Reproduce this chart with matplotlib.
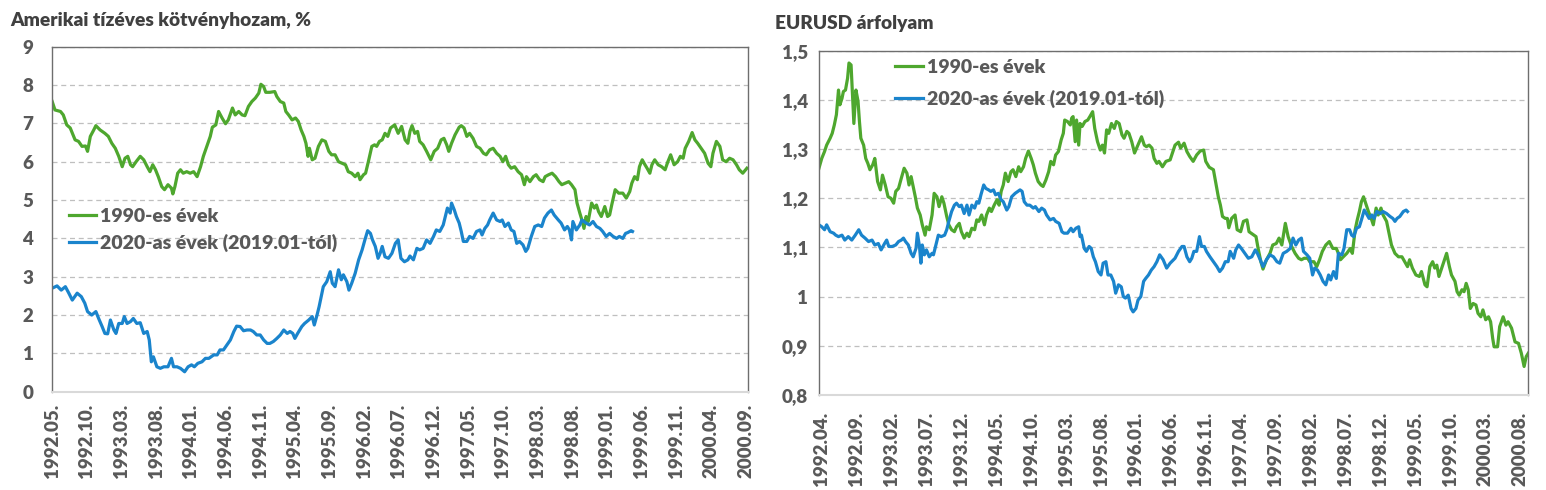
import matplotlib
matplotlib.use("Agg")
import matplotlib.pyplot as plt

plt.rcParams['font.family'] = ['Lato', 'DejaVu Sans']
W = 800  # Lato Heavy, closer to the heavy Calibri bold of the original

GREEN = '#4ea72e'
BLUE = '#1a84cc'
TXT = '#595959'

# ---- US 10y yield, months from start (1992.05 / 2019.01) ----
y90_m = [0.0, 0.4, 1.2, 1.6, 2.1, 2.6, 3.3, 3.8, 4.3, 4.8, 5.1, 5.5, 6.0, 6.3, 6.9, 7.6, 8.1, 8.6,
         9.1, 9.6, 10.1, 10.5, 10.9, 11.3, 11.6, 12.1, 12.7, 13.2, 13.7, 14.1, 14.5, 14.9, 15.3,
         15.8, 16.2, 16.7, 17.2, 17.4, 17.7, 18.1, 18.5, 18.9, 19.4, 19.9, 20.4, 20.9, 21.4, 21.8,
         22.3, 22.8, 23.1, 23.6, 24.0, 24.5, 25.0, 25.4, 26.0, 26.4, 26.9, 27.4, 27.8, 28.3, 28.8,
         29.3, 29.8, 30.1, 30.5, 30.8, 31.4, 32.1, 32.4, 32.9, 33.4, 33.7, 34.1, 34.6, 35.1, 35.5,
         35.9, 36.3, 36.6, 36.9, 37.1, 37.5, 37.9, 38.4, 38.9, 39.4, 39.9, 40.3, 40.8, 41.3, 41.8,
         42.3, 42.7, 43.2, 43.7, 44.1, 44.4, 44.9, 45.2, 45.6, 46.1, 46.5, 46.8, 47.2, 47.6, 48.0,
         48.4, 48.8, 49.4, 49.9, 50.4, 50.9, 51.3, 51.6, 51.9, 52.3, 52.7, 53.0, 53.5, 54.0, 54.6,
         55.1, 55.6, 56.1, 56.5, 56.9, 57.2, 57.6, 58.1, 58.7, 59.0, 59.4, 59.8, 60.2, 60.7, 61.2,
         61.7, 62.2, 62.6, 63.1, 63.6, 64.1, 64.6, 65.0, 65.4, 65.8, 66.2, 66.7, 67.2, 67.7, 68.1,
         68.4, 68.9, 69.4, 69.8, 70.3, 70.8, 71.1, 71.6, 72.1, 72.6, 73.1, 73.5, 74.0, 74.5, 74.9,
         75.4, 75.7, 76.1, 76.4, 76.7, 77.0, 77.3, 77.8, 78.2, 78.5, 78.8, 79.2, 79.7, 80.1, 80.4,
         80.7, 81.2, 81.7, 82.3, 82.8, 83.3, 83.6, 84.0, 84.4, 84.7, 85.1, 85.5, 85.8, 86.2, 86.5,
         86.9, 87.4, 87.9, 88.4, 88.8, 89.2, 89.7, 90.2, 90.6, 91.0, 91.3, 91.8, 92.3, 92.7, 93.1,
         93.6, 94.1, 94.6, 95.0, 95.3, 95.8, 96.3, 96.7, 97.2, 97.7, 98.2, 98.7, 99.1, 99.6, 100.2]
y90_v = [7.57, 7.35, 7.31, 7.22, 6.96, 6.88, 6.57, 6.53, 6.40, 6.41, 6.27, 6.66, 6.83, 6.94, 6.83,
         6.74, 6.66, 6.48, 6.35, 6.14, 5.87, 6.09, 6.14, 5.92, 5.87, 6.00, 6.14, 6.05, 5.87, 5.74,
         5.92, 5.79, 5.61, 5.35, 5.27, 5.40, 5.31, 5.16, 5.35, 5.70, 5.79, 5.70, 5.74, 5.70, 5.74,
         5.61, 5.87, 6.14, 6.40, 6.66, 6.90, 6.96, 7.31, 7.14, 6.99, 7.09, 7.40, 7.22, 7.31, 7.22,
         7.20, 7.44, 7.57, 7.66, 7.79, 8.02, 7.96, 7.81, 7.81, 7.83, 7.70, 7.57, 7.53, 7.31, 7.22,
         7.09, 7.14, 7.05, 6.83, 6.66, 6.48, 6.14, 6.35, 6.05, 6.09, 6.40, 6.57, 6.53, 6.27, 6.18,
         6.18, 6.00, 5.96, 5.92, 5.74, 5.70, 5.61, 5.70, 5.53, 5.66, 5.70, 6.00, 6.40, 6.44, 6.40,
         6.53, 6.57, 6.74, 6.66, 6.88, 6.96, 6.74, 6.92, 6.57, 6.48, 6.79, 6.94, 6.74, 6.79, 6.53,
         6.44, 6.27, 6.05, 6.27, 6.35, 6.57, 6.61, 6.44, 6.27, 6.48, 6.70, 6.90, 6.94, 6.88, 6.66,
         6.74, 6.61, 6.40, 6.35, 6.22, 6.18, 6.31, 6.35, 6.22, 6.14, 6.00, 6.14, 5.92, 5.83, 5.87,
         5.74, 5.66, 5.40, 5.61, 5.48, 5.61, 5.66, 5.53, 5.48, 5.61, 5.66, 5.70, 5.61, 5.48, 5.40,
         5.44, 5.48, 5.40, 5.27, 4.92, 4.66, 4.48, 4.26, 4.57, 4.44, 4.92, 4.79, 4.87, 4.70, 4.57,
         4.83, 4.57, 4.61, 4.87, 5.27, 5.18, 5.18, 5.05, 5.22, 5.44, 5.61, 5.53, 5.87, 6.05, 5.92,
         5.83, 5.70, 5.92, 6.05, 5.92, 5.87, 5.79, 6.00, 6.18, 5.92, 6.00, 6.14, 6.09, 6.35, 6.53,
         6.76, 6.57, 6.48, 6.35, 6.22, 5.96, 5.87, 6.22, 6.53, 6.40, 6.05, 6.00, 6.09, 6.05, 5.92,
         5.79, 5.70, 5.83]

y20_m = [0.0, 0.7, 1.3, 1.9, 2.4, 2.9, 3.6, 4.2, 4.7, 5.1, 5.7, 6.3, 6.7, 7.2, 7.6, 8.0, 8.4, 8.9,
         9.2, 9.6, 10.1, 10.4, 10.8, 11.3, 11.7, 12.2, 12.7, 13.2, 13.7, 14.0, 14.3, 14.6, 15.1,
         15.6, 16.1, 16.7, 17.2, 17.5, 18.0, 18.5, 19.1, 19.6, 20.1, 20.5, 21.0, 21.6, 22.1, 22.6,
         23.3, 23.8, 24.2, 24.7, 25.2, 25.7, 26.2, 26.6, 27.1, 27.6, 28.1, 28.6, 29.0, 29.5, 30.0,
         30.5, 31.0, 31.4, 31.9, 32.4, 32.9, 33.4, 33.9, 34.3, 34.7, 35.0, 35.4, 36.0, 36.4, 37.0,
         37.5, 37.8, 38.2, 38.5, 38.8, 39.1, 39.6, 40.1, 40.4, 40.8, 41.3, 41.7, 42.0, 42.5, 42.8,
         43.2, 43.7, 44.2, 44.7, 45.1, 45.5, 45.9, 46.2, 46.6, 47.0, 47.3, 47.6, 48.0, 48.5, 49.0,
         49.5, 49.9, 50.3, 50.8, 51.3, 51.6, 52.1, 52.6, 53.0, 53.5, 54.0, 54.5, 55.0, 55.4, 55.9,
         56.4, 56.7, 57.0, 57.4, 57.6, 58.0, 58.3, 58.7, 59.0, 59.3, 59.8, 60.2, 60.7, 61.2, 61.7,
         62.0, 62.4, 62.8, 63.1, 63.6, 64.1, 64.6, 64.9, 65.3, 65.8, 66.2, 66.6, 67.0, 67.4, 67.9,
         68.3, 68.6, 69.1, 69.6, 70.1, 70.6, 71.0, 71.5, 72.0, 72.4, 73.0, 73.4, 73.9, 74.3, 74.6,
         74.9, 75.1, 75.6, 76.1, 76.4, 77.0, 77.5, 78.0, 78.5, 79.0, 79.4, 79.9, 80.4, 80.9, 81.4,
         81.8, 82.3, 82.7, 83.0, 83.5, 83.7]
y20_v = [2.70, 2.76, 2.65, 2.74, 2.57, 2.39, 2.57, 2.48, 2.31, 2.09, 2.00, 2.09, 1.91, 1.70, 1.52,
         1.51, 1.87, 1.61, 1.52, 1.78, 1.78, 1.96, 1.78, 1.83, 1.91, 1.78, 1.80, 1.52, 1.57, 1.35,
         0.78, 0.91, 0.65, 0.61, 0.65, 0.65, 0.87, 0.65, 0.65, 0.61, 0.52, 0.65, 0.70, 0.65, 0.74,
         0.78, 0.87, 0.87, 0.96, 0.96, 1.09, 1.09, 1.22, 1.35, 1.57, 1.71, 1.70, 1.59, 1.61, 1.61,
         1.57, 1.48, 1.48, 1.35, 1.26, 1.26, 1.31, 1.39, 1.48, 1.61, 1.52, 1.57, 1.52, 1.39, 1.52,
         1.70, 1.78, 1.87, 1.96, 1.74, 2.00, 2.22, 2.48, 2.74, 2.87, 3.13, 2.83, 2.74, 3.18, 2.92,
         3.05, 2.87, 2.65, 2.83, 3.09, 3.44, 3.70, 3.96, 4.20, 4.13, 3.96, 3.79, 3.48, 3.61, 3.79,
         3.52, 3.48, 3.61, 3.87, 3.96, 3.48, 3.39, 3.44, 3.54, 3.44, 3.74, 3.70, 3.74, 3.96, 3.87,
         4.05, 4.22, 4.18, 4.35, 4.57, 4.79, 4.66, 4.92, 4.74, 4.57, 4.40, 4.18, 3.92, 3.92, 4.05,
         4.00, 4.18, 4.22, 4.09, 4.26, 4.35, 4.48, 4.66, 4.48, 4.44, 4.48, 4.31, 4.40, 4.22, 4.18,
         3.87, 3.92, 3.83, 3.66, 3.74, 4.05, 4.31, 4.35, 4.31, 4.53, 4.66, 4.74, 4.61, 4.48, 4.40,
         4.22, 4.31, 4.22, 3.96, 4.44, 4.22, 4.35, 4.48, 4.40, 4.35, 4.44, 4.31, 4.26, 4.18, 4.05,
         4.13, 4.05, 4.00, 4.05, 4.00, 4.13, 4.15, 4.20, 4.18]

yield_labels = ['1992.05.', '1992.10.', '1993.03.', '1993.08.', '1994.01.', '1994.06.', '1994.11.',
                '1995.04.', '1995.09.', '1996.02.', '1996.07.', '1996.12.', '1997.05.', '1997.10.',
                '1998.03.', '1998.08.', '1999.01.', '1999.06.', '1999.11.', '2000.04.', '2000.09.']

# ---- EURUSD, months from start (1992.04 / 2019.01) ----
e90_m = [-0.4, 0.0, 0.4, 0.7, 1.2, 1.5, 1.8, 2.1, 2.4, 2.6, 2.9, 3.1, 3.4, 3.7, 3.9, 4.2, 4.4, 4.6,
         4.9, 5.2, 5.4, 5.6, 6.0, 6.3, 6.6, 6.9, 7.3, 7.6, 8.0, 8.4, 8.7, 9.1, 9.5, 9.9, 10.3, 10.6,
         11.0, 11.4, 11.8, 12.2, 12.5, 12.8, 13.1, 13.4, 13.7, 14.1, 14.4, 14.8, 15.0, 15.4, 15.8,
         16.1, 16.5, 16.8, 17.2, 17.5, 17.9, 18.2, 18.6, 19.0, 19.3, 19.7, 20.0, 20.4, 20.8, 21.1,
         21.5, 21.9, 22.2, 22.5, 22.9, 23.3, 23.6, 24.0, 24.3, 24.7, 25.1, 25.4, 25.7, 26.0, 26.3,
         26.7, 27.1, 27.4, 27.8, 28.2, 28.5, 28.9, 29.2, 29.6, 30.0, 30.3, 30.6, 31.0, 31.4, 31.7,
         32.1, 32.5, 32.8, 33.2, 33.5, 33.9, 34.3, 34.6, 34.8, 35.2, 35.6, 35.8, 36.0, 36.3, 36.5,
         36.8, 37.0, 37.3, 37.7, 38.1, 38.4, 38.8, 39.1, 39.5, 39.9, 40.2, 40.5, 40.8, 41.1, 41.5,
         41.9, 42.2, 42.6, 43.0, 43.3, 43.7, 44.0, 44.4, 44.8, 45.1, 45.4, 45.8, 46.2, 46.5, 46.9,
         47.3, 47.6, 48.0, 48.3, 48.8, 49.3, 49.9, 50.6, 51.1, 51.4, 51.9, 52.3, 52.7, 53.2, 53.7,
         54.2, 54.7, 55.0, 55.5, 56.1, 56.5, 56.8, 57.1, 57.4, 57.8, 58.1, 58.3, 58.7, 59.2, 59.5,
         60.0, 60.4, 60.9, 61.2, 61.7, 62.2, 62.5, 62.9, 63.2, 63.7, 64.2, 64.6, 65.1, 65.5, 65.9,
         66.4, 66.8, 67.3, 67.8, 68.3, 68.7, 69.1, 69.6, 69.9, 70.5, 70.9, 71.3, 71.7, 72.2, 72.7,
         73.2, 73.7, 74.0, 74.3, 74.7, 75.2, 75.7, 76.0, 76.4, 76.7, 77.0, 77.3, 77.6, 77.9, 78.3,
         78.7, 79.0, 79.4, 79.7, 80.1, 80.4, 80.9, 81.3, 81.6, 82.1, 82.6, 83.1, 83.5, 83.9, 84.2,
         84.6, 85.1, 85.6, 85.9, 86.4, 86.7, 87.1, 87.5, 87.8, 88.1, 88.4, 88.8, 89.1, 89.5, 89.9,
         90.2, 90.7, 91.0, 91.3, 91.7, 92.0, 92.3, 92.6, 92.9, 93.3, 93.7, 94.0, 94.4, 94.7, 95.1,
         95.5, 95.8, 96.1, 96.3, 96.8, 97.1, 97.6, 98.0, 98.3, 98.8, 99.3, 99.8, 100.2, 100.6,
         100.9, 101.2]
e90_v = [1.261, 1.281, 1.295, 1.308, 1.322, 1.332, 1.349, 1.370, 1.420, 1.390, 1.403, 1.417, 1.420,
         1.444, 1.475, 1.471, 1.410, 1.352, 1.420, 1.397, 1.356, 1.322, 1.308, 1.281, 1.271, 1.258,
         1.268, 1.281, 1.234, 1.217, 1.247, 1.227, 1.203, 1.200, 1.190, 1.214, 1.220, 1.241, 1.261,
         1.251, 1.227, 1.244, 1.224, 1.203, 1.180, 1.166, 1.146, 1.125, 1.142, 1.136, 1.166, 1.210,
         1.203, 1.183, 1.203, 1.190, 1.163, 1.146, 1.136, 1.132, 1.142, 1.149, 1.132, 1.119, 1.129,
         1.122, 1.139, 1.136, 1.156, 1.153, 1.166, 1.146, 1.166, 1.180, 1.173, 1.186, 1.197, 1.186,
         1.214, 1.227, 1.251, 1.234, 1.254, 1.258, 1.244, 1.264, 1.254, 1.264, 1.281, 1.296, 1.281,
         1.268, 1.251, 1.234, 1.227, 1.224, 1.237, 1.254, 1.275, 1.268, 1.288, 1.295, 1.319, 1.332,
         1.359, 1.356, 1.349, 1.363, 1.366, 1.315, 1.359, 1.308, 1.352, 1.346, 1.356, 1.359, 1.366,
         1.376, 1.342, 1.315, 1.298, 1.308, 1.292, 1.339, 1.332, 1.352, 1.342, 1.356, 1.352, 1.329,
         1.322, 1.336, 1.332, 1.315, 1.292, 1.302, 1.312, 1.325, 1.308, 1.305, 1.308, 1.302, 1.281,
         1.271, 1.275, 1.264, 1.275, 1.278, 1.308, 1.314, 1.302, 1.312, 1.295, 1.285, 1.275, 1.288,
         1.296, 1.298, 1.275, 1.263, 1.258, 1.227, 1.203, 1.186, 1.163, 1.159, 1.159, 1.140, 1.159,
         1.166, 1.136, 1.132, 1.153, 1.156, 1.132, 1.127, 1.122, 1.098, 1.071, 1.056, 1.075, 1.088,
         1.105, 1.108, 1.119, 1.105, 1.149, 1.122, 1.102, 1.088, 1.078, 1.075, 1.078, 1.078, 1.071,
         1.071, 1.061, 1.075, 1.092, 1.105, 1.112, 1.098, 1.098, 1.088, 1.075, 1.081, 1.088, 1.098,
         1.088, 1.136, 1.156, 1.173, 1.193, 1.203, 1.190, 1.173, 1.159, 1.146, 1.180, 1.166, 1.180,
         1.166, 1.153, 1.125, 1.105, 1.088, 1.081, 1.081, 1.071, 1.061, 1.075, 1.058, 1.044, 1.041,
         1.051, 1.024, 1.020, 1.061, 1.071, 1.058, 1.064, 1.041, 1.058, 1.071, 1.088, 1.061, 1.044,
         1.031, 1.010, 1.003, 1.014, 1.010, 1.027, 1.014, 0.976, 0.986, 0.983, 0.966, 0.959, 0.973,
         0.953, 0.959, 0.949, 0.915, 0.898, 0.898, 0.939, 0.959, 0.942, 0.949, 0.936, 0.908, 0.905,
         0.885, 0.858, 0.878, 0.885]

e20_m = [-0.4, 0.0, 0.4, 0.7, 1.2, 1.7, 2.0, 2.4, 2.9, 3.3, 3.8, 4.3, 4.8, 5.3, 5.7, 6.2, 6.7, 7.2,
         7.6, 8.1, 8.5, 9.0, 9.3, 9.6, 10.1, 10.6, 11.0, 11.4, 11.7, 12.0, 12.4, 12.8, 13.1, 13.5,
         13.7, 14.0, 14.2, 14.4, 14.7, 15.0, 15.4, 15.8, 16.0, 16.3, 16.7, 17.1, 17.6, 17.9, 18.2,
         18.6, 19.0, 19.3, 19.7, 20.0, 20.4, 20.8, 21.1, 21.5, 21.9, 22.2, 22.5, 22.8, 23.2, 23.5,
         23.9, 24.2, 24.6, 24.9, 25.3, 25.7, 26.0, 26.5, 26.8, 27.2, 27.7, 28.1, 28.4, 28.7, 29.0,
         29.4, 29.8, 30.3, 30.6, 31.1, 31.5, 31.9, 32.2, 32.7, 33.2, 33.5, 34.0, 34.4, 34.7, 35.2,
         35.7, 36.0, 36.4, 36.8, 37.0, 37.2, 37.6, 37.9, 38.3, 38.6, 38.9, 39.2, 39.6, 40.0, 40.3,
         40.7, 41.0, 41.4, 41.8, 42.1, 42.5, 42.9, 43.2, 43.5, 43.9, 44.3, 44.6, 45.0, 45.3, 45.7,
         46.1, 46.4, 46.8, 47.2, 47.6, 48.0, 48.4, 48.9, 49.4, 49.9, 50.6, 51.1, 51.6, 51.9, 52.3,
         52.7, 53.0, 53.3, 53.7, 54.1, 54.4, 54.8, 55.1, 55.6, 56.1, 56.6, 57.0, 57.4, 57.8, 58.2,
         58.5, 59.0, 59.3, 59.7, 60.1, 60.6, 61.1, 61.6, 62.1, 62.4, 62.8, 63.2, 63.7, 64.2, 64.7,
         65.2, 65.6, 66.1, 66.6, 67.1, 67.5, 67.9, 68.3, 68.7, 69.0, 69.5, 69.9, 70.3, 70.6, 71.0,
         71.4, 71.8, 72.2, 72.6, 72.9, 73.3, 73.7, 74.0, 74.5, 74.8, 75.2, 75.6, 75.9, 76.2, 76.6,
         77.0, 77.3, 77.7, 78.0, 78.4, 78.8, 79.1, 79.5, 80.0, 80.4, 80.9, 81.4, 81.8, 82.1, 82.4,
         82.8, 83.3, 83.7, 83.9]
e20_v = [1.146, 1.142, 1.136, 1.146, 1.132, 1.129, 1.125, 1.122, 1.125, 1.115, 1.122, 1.115, 1.125,
         1.136, 1.125, 1.119, 1.112, 1.115, 1.105, 1.108, 1.095, 1.108, 1.115, 1.102, 1.102, 1.105,
         1.112, 1.115, 1.119, 1.112, 1.105, 1.088, 1.081, 1.098, 1.129, 1.102, 1.068, 1.105, 1.085,
         1.095, 1.081, 1.088, 1.085, 1.102, 1.125, 1.122, 1.125, 1.136, 1.153, 1.173, 1.186, 1.190,
         1.183, 1.186, 1.169, 1.186, 1.166, 1.186, 1.180, 1.193, 1.190, 1.207, 1.227, 1.220, 1.217,
         1.214, 1.217, 1.207, 1.210, 1.197, 1.193, 1.176, 1.183, 1.203, 1.210, 1.214, 1.217, 1.214,
         1.193, 1.186, 1.186, 1.180, 1.183, 1.173, 1.180, 1.176, 1.166, 1.156, 1.159, 1.153, 1.149,
         1.132, 1.129, 1.129, 1.139, 1.132, 1.139, 1.142, 1.122, 1.125, 1.098, 1.092, 1.102, 1.098,
         1.081, 1.071, 1.051, 1.044, 1.068, 1.071, 1.044, 1.044, 1.031, 1.007, 1.024, 1.020, 1.000,
         0.997, 1.003, 0.976, 0.969, 0.976, 0.993, 1.000, 1.031, 1.037, 1.044, 1.054, 1.061, 1.071,
         1.085, 1.075, 1.058, 1.068, 1.078, 1.092, 1.102, 1.102, 1.081, 1.071, 1.078, 1.092, 1.092,
         1.122, 1.102, 1.102, 1.092, 1.081, 1.071, 1.061, 1.051, 1.058, 1.071, 1.071, 1.092, 1.078,
         1.095, 1.105, 1.098, 1.088, 1.078, 1.081, 1.095, 1.088, 1.075, 1.061, 1.075, 1.085, 1.081,
         1.071, 1.068, 1.088, 1.092, 1.098, 1.119, 1.105, 1.115, 1.119, 1.092, 1.085, 1.078, 1.044,
         1.058, 1.054, 1.044, 1.031, 1.024, 1.044, 1.034, 1.051, 1.037, 1.088, 1.085, 1.098, 1.136,
         1.136, 1.125, 1.122, 1.139, 1.142, 1.156, 1.176, 1.169, 1.159, 1.166, 1.159, 1.173, 1.169,
         1.173, 1.169, 1.163, 1.159, 1.153, 1.159, 1.163, 1.173, 1.176, 1.173]

fx_labels = ['1992.04.', '1992.09.', '1993.02.', '1993.07.', '1993.12.', '1994.05.', '1994.10.',
             '1995.03.', '1995.08.', '1996.01.', '1996.06.', '1996.11.', '1997.04.', '1997.09.',
             '1998.02.', '1998.07.', '1998.12.', '1999.05.', '1999.10.', '2000.03.', '2000.08.']
fx_ticks = [0.8, 0.9, 1.0, 1.1, 1.2, 1.3, 1.4, 1.5]
fx_ticklabels = ['0,8', '0,9', '1', '1,1', '1,2', '1,3', '1,4', '1,5']

legend_names = ['1990-es évek', '2020-as évek (2019.01-tól)']


def style(ax, ypad, xpad):
    ax.grid(axis='y', color='#bfbfbf', linestyle=(0, (4, 3)), linewidth=0.9)
    ax.set_axisbelow(True)
    for s in ['top', 'right', 'left']:
        ax.spines[s].set_color('#6e6e6e')
        ax.spines[s].set_linewidth(1.0)
    ax.spines['bottom'].set_color('#d9d9d9')
    ax.spines['bottom'].set_linewidth(1.5)
    ax.tick_params(axis='both', length=0, labelsize=13.5, labelcolor=TXT)
    ax.tick_params(axis='y', pad=ypad)
    ax.tick_params(axis='x', pad=xpad, labelrotation=90)
    for lab in ax.get_xticklabels() + ax.get_yticklabels():
        lab.set_fontweight(W)


fig = plt.figure(figsize=(15.46, 4.9), dpi=100)

# left: yield
ax1 = fig.add_axes([51.5 / 1546, 1 - 391.7 / 490, (748.3 - 51.5) / 1546, (391.7 - 46.7) / 490])
ax1.plot(y90_m, y90_v, color=GREEN, lw=2.3, label=legend_names[0])
ax1.plot(y20_m, y20_v, color=BLUE, lw=2.3, label=legend_names[1])
ax1.set_xlim(-0.1, 100.4)
ax1.set_ylim(0, 9)
ax1.set_yticks(range(0, 10))
ax1.set_xticks(range(0, 101, 5))
ax1.set_xticklabels(yield_labels)
style(ax1, 13, 9)
ax1.legend(loc='center left', bbox_to_anchor=(0.025, 0.47), frameon=False,
           prop={'weight': W, 'size': 14}, labelcolor=TXT, handlelength=1.4,
           handletextpad=0.2, labelspacing=0.45, borderpad=0, borderaxespad=0)

# right: EURUSD
ax2 = fig.add_axes([819.3 / 1546, 1 - 395 / 490, (1528.3 - 819.3) / 1546, (395 - 50.7) / 490])
ax2.plot(e90_m, e90_v, color=GREEN, lw=2.3, label=legend_names[0])
ax2.plot(e20_m, e20_v, color=BLUE, lw=2.3, label=legend_names[1])
ax2.set_xlim(-0.35, 101.2)
ax2.set_ylim(0.8, 1.5)
ax2.set_yticks(fx_ticks)
ax2.set_yticklabels(fx_ticklabels)
ax2.set_xticks(range(0, 101, 5))
ax2.set_xticklabels(fx_labels)
style(ax2, 8, 12)
ax2.legend(loc='center left', bbox_to_anchor=(0.107, 0.905), frameon=False,
           prop={'weight': W, 'size': 14}, labelcolor=TXT, handlelength=1.45,
           handletextpad=0.2, labelspacing=0.75, borderpad=0, borderaxespad=0)

fig.text(10 / 1546, 1 - 26 / 490, 'Amerikai tízéves kötvényhozam, %', fontsize=13.8,
         fontweight=W, color='#404040', va='baseline')
fig.text(775 / 1546, 1 - 29.5 / 490, 'EURUSD árfolyam', fontsize=13.8,
         fontweight=W, color='#404040', va='baseline')

plt.savefig('out.png', dpi=100)
plt.close()
